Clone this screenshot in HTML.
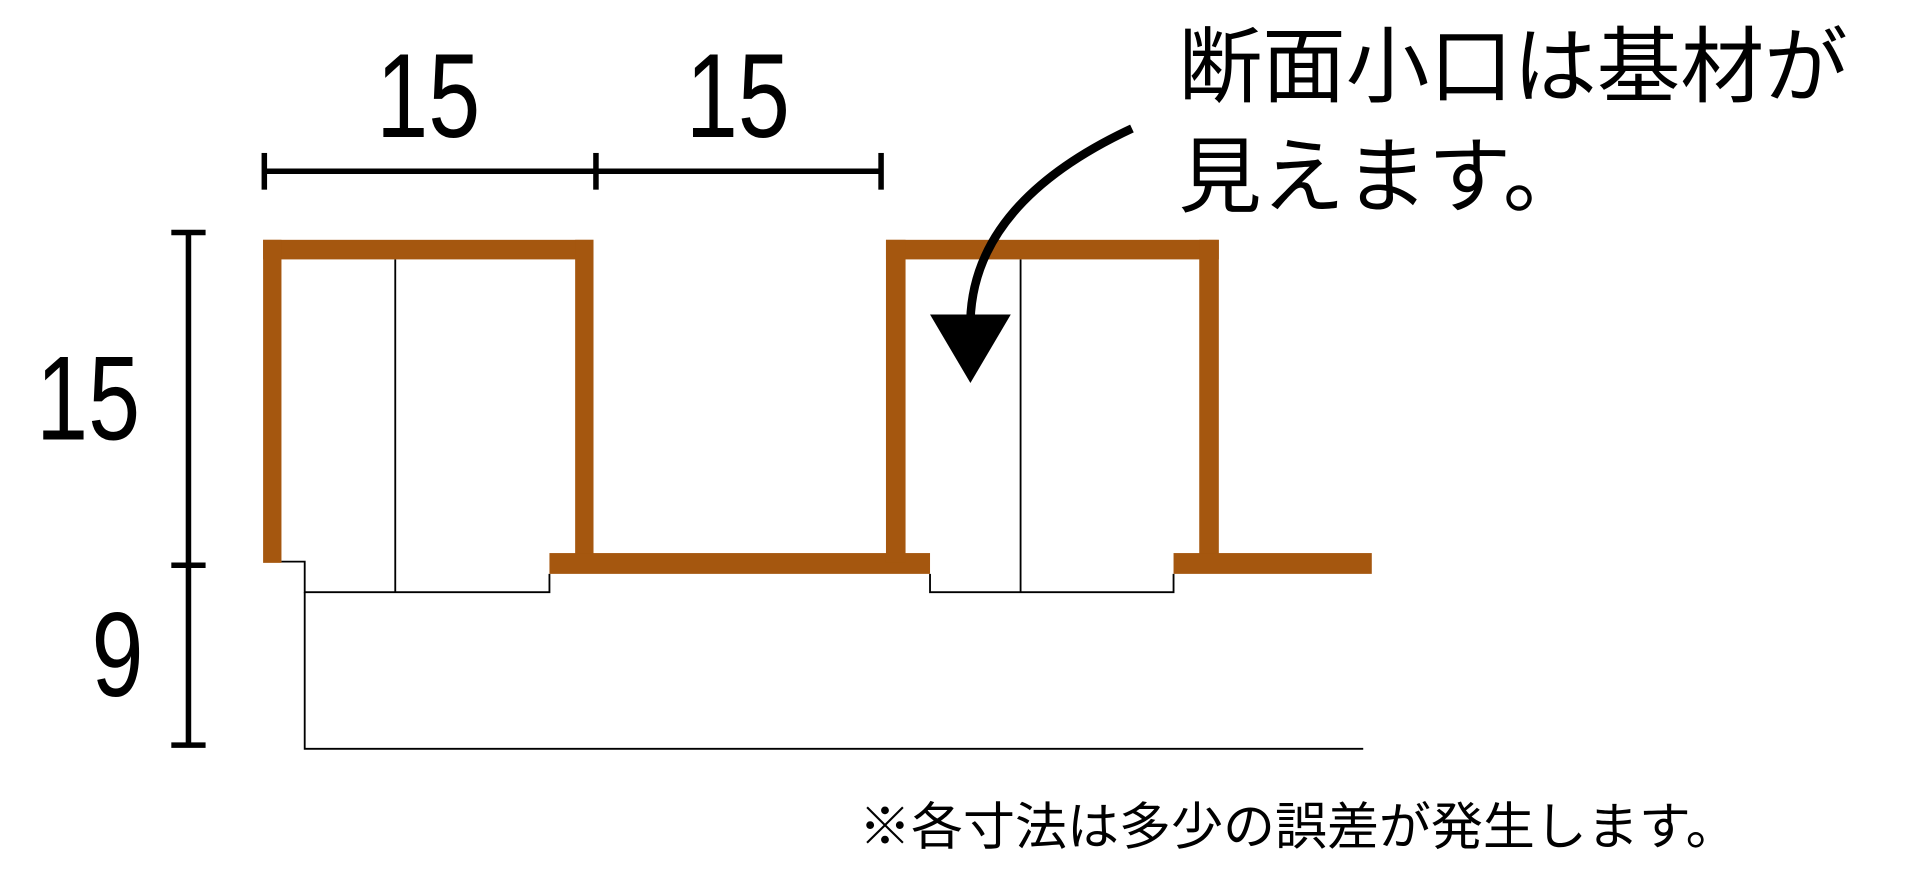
<!DOCTYPE html>
<html><head><meta charset="utf-8"><style>html,body{margin:0;padding:0;background:#fff;}svg{display:block;}</style></head>
<body>
<svg width="1909" height="881" viewBox="0 0 1560 720" preserveAspectRatio="none" xmlns="http://www.w3.org/2000/svg">
<g font-family="Liberation Sans, sans-serif" fill="#000">
<text x="350" y="112" font-size="98" text-anchor="middle" transform="translate(350 0) scale(0.78 1) translate(-350 0)">15</text>
<text x="603" y="112" font-size="98" text-anchor="middle" transform="translate(603 0) scale(0.78 1) translate(-603 0)">15</text>
<text x="72" y="359" font-size="98" text-anchor="middle" transform="translate(72 0) scale(0.78 1) translate(-72 0)">15</text>
<text x="96" y="569" font-size="98" text-anchor="middle" transform="translate(96 0) scale(0.78 1) translate(-96 0)">9</text>
</g>
<g stroke="#000" stroke-width="4.5" fill="none">
<line x1="216" y1="140" x2="720" y2="140"/>
<line x1="216" y1="125" x2="216" y2="155"/>
<line x1="487" y1="125" x2="487" y2="155"/>
<line x1="720" y1="125" x2="720" y2="155"/>
<line x1="154" y1="190" x2="154" y2="609"/>
<line x1="140" y1="190" x2="168" y2="190"/>
<line x1="140" y1="462" x2="168" y2="462"/>
<line x1="140" y1="609" x2="168" y2="609"/>
</g>
<g stroke="#000" stroke-width="1.5" fill="none">
<polyline points="230,459 249,459 249,484 449,484 449,469"/>
<line x1="323" y1="212" x2="323" y2="484"/>
<polyline points="760,469 760,484 959,484 959,469"/>
<line x1="834" y1="212" x2="834" y2="484"/>
<polyline points="249,484 249,612 1114,612"/>
</g>
<g fill="#A5570F">
<rect x="215" y="196" width="270" height="16"/>
<rect x="215" y="196" width="15" height="264"/>
<rect x="470" y="196" width="15" height="264"/>
<rect x="449" y="452" width="311" height="17"/>
<rect x="724" y="196" width="272" height="16"/>
<rect x="724" y="196" width="16" height="264"/>
<rect x="980" y="196" width="16" height="264"/>
<rect x="959" y="452" width="162" height="17"/>
</g>
<path d="M925,105 C850,140 795,190 793,262" stroke="#000" stroke-width="7" fill="none"/>
<polygon points="760,257 826,257 793,313" fill="#000"/>
<g font-family="Liberation Sans, 'Noto Sans CJK JP', sans-serif" fill="#000">
<text x="963" y="78" font-size="68" textLength="547" lengthAdjust="spacingAndGlyphs">断面小口は基材が</text>
<text x="963" y="168" font-size="68">見えます。</text>
<text x="702" y="690" font-size="42" textLength="718" lengthAdjust="spacingAndGlyphs">※各寸法は多少の誤差が発生します。</text>
</g>
</svg>
</body></html>
